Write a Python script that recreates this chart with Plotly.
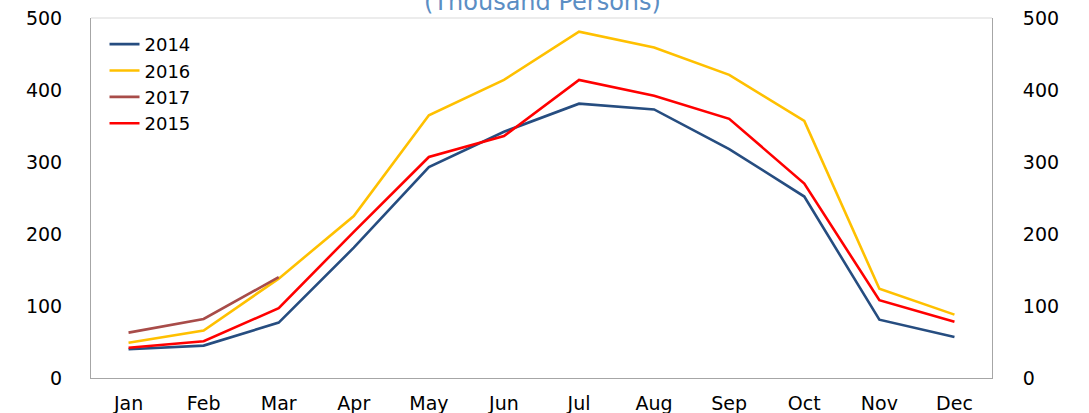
import plotly.graph_objects as go

months = ["Jan", "Feb", "Mar", "Apr", "May", "Jun", "Jul", "Aug", "Sep", "Oct", "Nov", "Dec"]
y2014 = [40, 45, 77, 181, 293, 342, 381, 373, 318, 252, 81, 57]
y2016 = [49, 66, 138, 225, 365, 414, 481, 459, 421, 357, 124, 88]
y2017 = [63, 82, 140]
y2015 = [42, 51, 97, 203, 307, 336, 414, 392, 360, 270, 108, 78]
tick_vals = [0, 100, 200, 300, 400, 500]

series = [
    ("2014", y2014, "#264d80"),
    ("2016", y2016, "#ffc000"),
    ("2017", y2017, "#a84c49"),
    ("2015", y2015, "#ff0000"),
]

fig = go.Figure()
for name, vals, color in series:
    fig.add_trace(go.Scatter(
        x=months[:len(vals)], y=vals, name=name, mode="lines",
        line=dict(color=color, width=2.6),
    ))
# invisible trace to drive the right-hand axis
fig.add_trace(go.Scatter(x=months, y=y2015, yaxis="y2", mode="lines",
                         line=dict(width=0, color="rgba(0,0,0,0)"),
                         showlegend=False, hoverinfo="skip"))

font = dict(family="DejaVu Sans", size=19, color="#000000")
fig.update_layout(
    width=1089, height=413,
    margin=dict(l=91, r=97, t=18, b=35, autoexpand=False),
    paper_bgcolor="white", plot_bgcolor="white",
    font=font,
    showlegend=True,
    legend=dict(x=0.015, y=0.978, xanchor="left", yanchor="top",
                bgcolor="rgba(0,0,0,0)", font=dict(family="DejaVu Sans", size=18),
                tracegroupgap=0),
    xaxis=dict(type="category", categoryorder="array", categoryarray=months,
               range=[-0.5, 11.5], showgrid=False, showline=True, linecolor="#a6a6a6",
               linewidth=1, ticks="", tickfont=font, zeroline=False,
               ticklabelstandoff=8, ticklabeloverflow="allow"),
    yaxis=dict(range=[0, 500], tickvals=tick_vals, showgrid=False, showline=True,
               linecolor="#a6a6a6", linewidth=1, ticks="", tickfont=font, zeroline=False,
               ticklabelstandoff=24, ticklabeloverflow="allow"),
    yaxis2=dict(range=[0, 500], tickvals=tick_vals, overlaying="y", side="right",
                showgrid=False, showline=True, linecolor="#a6a6a6", linewidth=1,
                ticks="", tickfont=font, zeroline=False, ticklabelstandoff=26,
                ticklabeloverflow="allow"),
    shapes=[dict(type="line", xref="paper", yref="paper", x0=0, x1=1, y0=1, y1=1,
                 line=dict(color="#d9d9d9", width=1))],
    annotations=[dict(text="(Thousand Persons)", xref="paper", yref="paper",
                      x=0.501, y=1, xanchor="center", yanchor="bottom", yshift=0,
                      showarrow=False,
                      font=dict(family="DejaVu Sans", size=24, color="#5b8ec4"))],
)
fig.write_html("out.html", config={"displayModeBar": False},
               post_script="document.body.style.margin='0px';")
